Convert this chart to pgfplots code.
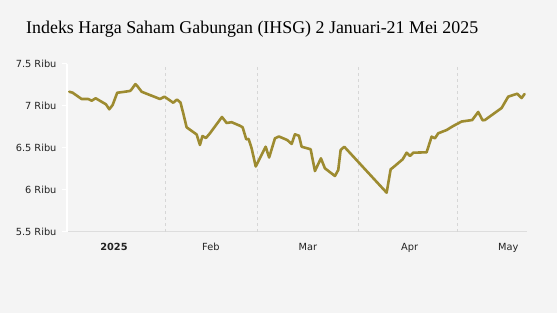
\documentclass[border=0pt]{standalone}
\usepackage{pgfplots}
\pgfplotsset{compat=1.18}
\usepackage{fontspec}
\setmainfont{DejaVu Sans}
\newfontfamily\titlefont{Liberation Serif}
\definecolor{bg}{RGB}{244,244,244}
\definecolor{linec}{RGB}{157,139,48}
\definecolor{gridc}{RGB}{214,214,214}
\definecolor{basec}{RGB}{221,221,221}
\definecolor{txt}{RGB}{35,35,35}
\begin{document}
\begin{tikzpicture}
\path[use as bounding box, fill=bg] (0,0) rectangle (557pt,313pt);
\node[anchor=base west, inner sep=0pt, text=black] at (26pt,279pt) {\titlefont\fontsize{17.9}{20}\selectfont Indeks Harga Saham Gabungan (IHSG) 2 Januari-21 Mei 2025};
\begin{axis}[
  at={(67pt,81pt)}, anchor=south west,
  scale only axis, width=460pt, height=168pt,
  xmin=1.2, xmax=141.2, ymin=5.5, ymax=7.5,
  axis x line*=bottom, axis y line*=left,
  x axis line style={draw=basec, line width=1pt, -},
  y axis line style={draw=white, line width=1.5pt, -},
  ytick={5.5,6,6.5,7,7.5},
  yticklabels={5.5 Ribu,6 Ribu,6.5 Ribu,7 Ribu,7.5 Ribu},
  ytick style={draw=white, line width=1pt},
  tick align=outside, major tick length=5pt,
  yticklabel style={font=\fontsize{9.8}{11}\selectfont, text=txt, xshift=-2pt},
  xtick={15.5,45,74.5,105.5,135.5},
  xticklabels={\textbf{2025},Feb,Mar,Apr,May},
  xtick style={draw=none},
  xticklabel style={font=\fontsize{9.8}{11}\selectfont, text=txt, yshift=-3pt},
  extra x ticks={31,59,90,120},
  extra x tick labels={},
  extra x tick style={grid=major, major grid style={draw=gridc, dashed, line width=0.8pt}, tick style={draw=gridc, dashed, line width=0.8pt}, major tick length=4pt},
  clip=false,
]
\addplot[linec, line width=2.6pt, line join=round, line cap=round] coordinates {
(1.89,7.170) (2.92,7.158) (5.66,7.083) (7.67,7.083) (8.70,7.063) (9.92,7.092)
(12.23,7.039) (13.06,7.020) (14.06,6.961) (15.09,7.012) (16.49,7.158) (18.32,7.167)
(20.36,7.179) (20.88,7.199) (22.0,7.260) (22.58,7.238) (23.92,7.170) (29.49,7.083)
(30.86,7.111) (33.54,7.039) (34.66,7.077) (35.73,7.042) (36.58,6.913) (37.61,6.746)
(40.66,6.661) (41.66,6.536) (42.42,6.643) (43.49,6.619) (44.70,6.675) (48.36,6.869)
(49.79,6.798) (51.31,6.807) (53.83,6.765) (54.66,6.746) (55.75,6.604) (56.48,6.607)
(57.39,6.496) (58.64,6.280) (61.66,6.515) (62.72,6.387) (64.49,6.615) (65.70,6.637)
(68.23,6.595) (69.57,6.548) (70.57,6.663) (71.79,6.646) (72.61,6.515) (75.35,6.485)
(76.66,6.226) (78.48,6.377) (79.70,6.258) (82.74,6.167) (83.75,6.238) (84.48,6.476)
(85.58,6.515) (98.48,5.968) (99.70,6.246) (100.49,6.270) (103.35,6.365) (104.56,6.444)
(105.57,6.405) (106.57,6.444) (110.65,6.449) (112.17,6.635) (113.18,6.615) (114.18,6.675)
(116.74,6.714) (118.75,6.762) (121.30,6.815) (124.53,6.833) (126.35,6.929) (127.69,6.830)
(128.39,6.833) (133.47,6.976) (135.48,7.111) (138.22,7.146) (139.56,7.095) (140.47,7.143)
};
\end{axis}
\end{tikzpicture}
\end{document}
